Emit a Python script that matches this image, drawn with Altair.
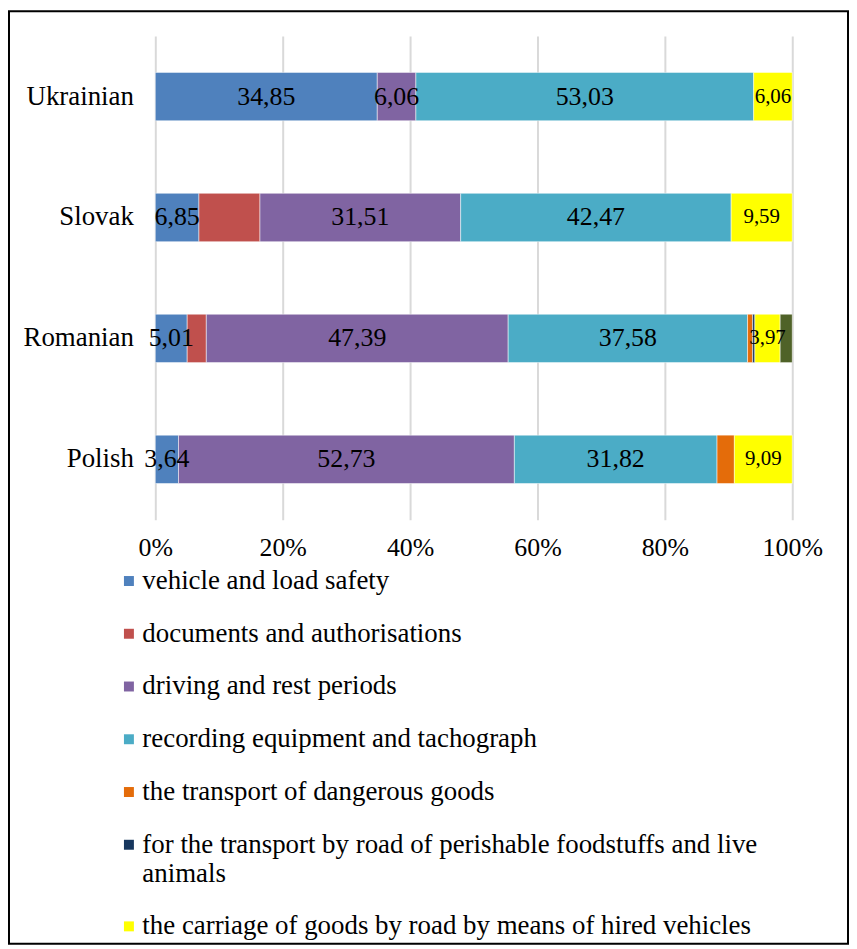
import altair as alt
import pandas as pd

countries = ["Ukrainian", "Slovak", "Romanian", "Polish"]
series = [
    "vehicle and load safety",
    "documents and authorisations",
    "driving and rest periods",
    "recording equipment and tachograph",
    "the transport of dangerous goods",
    "for the transport by road of perishable foodstuffs and live animals",
    "the carriage of goods by road by means of hired vehicles",
    "other",
]
colors = ["#4F81BD", "#C0504D", "#8064A2", "#4BACC6", "#E46C0A", "#17375E", "#FFFF00", "#4F6228"]

# values per series, in country order (Ukrainian, Slovak, Romanian, Polish)
vehicle = [34.85, 6.85, 5.01, 3.64]
documents = [0, 9.58, 3.00, 0]
driving = [6.06, 31.51, 47.39, 52.73]
recording = [53.03, 42.47, 37.58, 31.82]
dangerous = [0, 0, 0.80, 2.72]
perishable = [0, 0, 0.35, 0]
hired = [6.06, 9.59, 3.97, 9.09]
other = [0, 0, 1.90, 0]
labelled = ["vehicle and load safety", "driving and rest periods",
            "recording equipment and tachograph",
            "the carriage of goods by road by means of hired vehicles"]
ticks = [0, 20, 40, 60, 80, 100]

all_vals = [vehicle, documents, driving, recording, dangerous, perishable, hired, other]
rows = []
for si, (s, vals) in enumerate(zip(series, all_vals)):
    for c, v in zip(countries, vals):
        rows.append({"country": c, "series": s, "order": si, "value": v,
                     "show": s in labelled})
df = pd.DataFrame(rows)

FONT = "Liberation Serif"
wrap_name = series[5]
label_expr = ("datum.label == '%s' ? ['for the transport by road of perishable foodstuffs and live', 'animals'] : datum.label" % wrap_name)

base = alt.Chart(df).transform_filter("datum.value > 0").transform_stack(
    stack="value", groupby=["country"], as_=["x0", "x1"],
    sort=[alt.SortField("order", order="ascending")]
).transform_calculate(
    mid="(datum.x0 + datum.x1) / 2",
    lab="replace(format(datum.value, '.2f'), '.', ',')"
)

yenc = alt.Y("country:N", sort=countries,
             scale=alt.Scale(paddingInner=0.6, paddingOuter=0.3),
             axis=alt.Axis(title=None, ticks=False, domain=False, labelPadding=22,
                           labelFontSize=27, labelFont=FONT, labelColor="black"))

bars = base.mark_bar(stroke="white", strokeWidth=0.5).encode(
    x=alt.X("x0:Q", scale=alt.Scale(domain=[0, 100], nice=False),
            axis=alt.Axis(title=None, values=ticks, labelExpr="datum.value + '%'",
                          grid=True, gridColor="#d9d9d9", gridWidth=2, domain=False,
                          ticks=False, tickSize=0, labelPadding=15, labelFontSize=26,
                          labelFlush=False, labelFont=FONT, labelColor="black")),
    x2="x1:Q",
    y=yenc,
    color=alt.Color("series:N", scale=alt.Scale(domain=series, range=colors),
                    legend=alt.Legend(title=None, orient="none", legendX=-40, legendY=534,
                                      direction="vertical", symbolType="square",
                                      symbolSize=100, symbolStrokeWidth=0,
                                      labelFont=FONT, labelFontSize=27, labelColor="black",
                                      labelLimit=800, rowPadding=25, labelOffset=0,
                                      padding=0, values=series[:7], labelExpr=label_expr)),
)

text_big = base.transform_filter(
    "datum.show && datum.series != '%s'" % series[6]
).mark_text(font=FONT, fontSize=26, color="black").encode(
    x="mid:Q", y=alt.Y("country:N", sort=countries), text="lab:N")

text_small = base.transform_filter(
    "datum.show && datum.series == '%s'" % series[6]
).mark_text(font=FONT, fontSize=21, color="black").encode(
    x="mid:Q", y=alt.Y("country:N", sort=countries), text="lab:N")

frame = alt.Chart(alt.Data(values=[{}])).mark_rect(
    fill="white", fillOpacity=0, stroke="black", strokeWidth=2
).encode(x=alt.value(-147), x2=alt.value(696), y=alt.value(-25), y2=alt.value(912))

chart = alt.layer(bars, text_big, text_small, frame).properties(
    width=640, height=486,
    autosize=alt.AutoSizeParams(type="none"),
    padding={"left": 148, "top": 26, "right": 57, "bottom": 427},
).configure_view(stroke=None)

chart.save("out.html", embed_options={"renderer": "svg", "actions": False})
